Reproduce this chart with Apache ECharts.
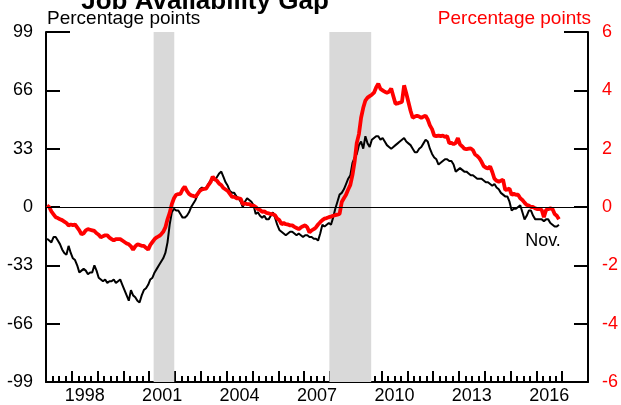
<!DOCTYPE html>
<html>
<head>
<meta charset="utf-8">
<script src="https://cdn.jsdelivr.net/npm/echarts@6/dist/echarts.min.js"></script>
<style>
  html, body { margin: 0; padding: 0; background: #fff; }
  #chart { width: 621px; height: 405px; }
</style>
</head>
<body>
<div id="chart"></div>
<script>
// monthly, Jan 1997 .. Nov 2016
const startYear = 1997;

// black line, left axis
const gapLevel = [
  -18, -19, -20, -17, -17, -19, -21, -24, -26, -27, -22, -26,   // 1997
  -29, -30, -33, -37, -36, -35, -36, -38, -37, -37, -33, -36,   // 1998
  -40, -41, -42, -41, -43, -42, -42, -41, -43, -42, -41, -44,   // 1999
  -47, -50, -53, -47, -50, -51, -53, -54, -50, -47, -46, -44,   // 2000
  -41, -40, -37, -35, -33, -31, -29, -26, -20, -10, -3, -1,     // 2001
  -2, -2, -4, -6, -6, -5, -3, 0, 2, 4, 7, 10,                   // 2002
  11, 10, 11, 13, 15, 16, 15, 17, 19, 20, 17, 14,               // 2003
  12, 9, 8, 8, 6, 5, 3, 0, 3, 5, 4, 3,                          // 2004
  1, -4, -3, -5, -6, -5, -7, -7, -5, -3, -6, -10,               // 2005
  -13, -14, -15, -16, -15, -14, -14, -15, -16, -15, -16, -17,   // 2006
  -16, -16, -17, -17, -18, -18, -19, -15, -10, -11, -10, -9,    // 2007
  -10, -6, -1, 3, 7, 8, 10, 13, 16, 18, 25, 28,                 // 2008
  30, 35, 37, 33, 40, 36, 34, 38, 39, 40, 40, 38,               // 2009
  39, 37, 35, 34, 33, 34, 35, 36, 37, 38, 39, 37,               // 2010
  36, 35, 33, 31, 31, 33, 34, 36, 38, 37, 33, 30,               // 2011
  28, 27, 24, 25, 26, 27, 27, 26, 26, 24, 20, 21,               // 2012
  22, 21, 20, 20, 19, 18, 18, 17, 16, 16, 16, 15,               // 2013
  14, 14, 13, 12, 13, 11, 10, 8, 7, 6, 6, 3,                    // 2014
  -2, -1, -1, 0, 1, -3, -7, -5, -2, -2, -5, -7,                 // 2015
  -7, -7, -7, -8, -7, -7, -9, -10, -11, -11, -10                // 2016
];

// red line, right axis
const gapRate = [
  0.05, 0.0, -0.15, -0.25, -0.35, -0.38, -0.42, -0.45, -0.5, -0.55, -0.63, -0.6,        // 1997
  -0.62, -0.6, -0.7, -0.8, -0.94, -0.9, -0.8, -0.76, -0.78, -0.8, -0.82, -0.9,          // 1998
  -0.95, -1.04, -1.0, -0.97, -0.97, -1.05, -1.1, -1.15, -1.1, -1.1, -1.1, -1.15,        // 1999
  -1.2, -1.25, -1.28, -1.35, -1.46, -1.35, -1.28, -1.3, -1.33, -1.33, -1.4, -1.46,      // 2000
  -1.3, -1.2, -1.1, -1.04, -1.0, -0.94, -0.85, -0.7, -0.42, -0.2, 0.1, 0.3,            // 2001
  0.42, 0.44, 0.45, 0.6, 0.7, 0.55, 0.45, 0.4, 0.38, 0.35, 0.45, 0.55,                 // 2002
  0.6, 0.62, 0.63, 0.75, 0.85, 1.04, 0.95, 0.9, 0.8, 0.75, 0.65, 0.6,                  // 2003
  0.55, 0.45, 0.35, 0.35, 0.3, 0.3, 0.28, 0.1, 0.12, 0.1, 0.1, 0.05,                   // 2004
  0.05, 0.0, -0.07, -0.1, -0.17, -0.15, -0.2, -0.22, -0.24, -0.25, -0.28, -0.4,        // 2005
  -0.45, -0.59, -0.55, -0.59, -0.6, -0.63, -0.63, -0.68, -0.72, -0.76, -0.7, -0.66,    // 2006
  -0.63, -0.7, -0.87, -0.8, -0.76, -0.7, -0.6, -0.52, -0.45, -0.4, -0.38, -0.35,       // 2007
  -0.33, -0.3, -0.28, -0.26, -0.24, 0.17, 0.3, 0.42, 0.6, 0.76, 1.1, 1.56,             // 2008
  2.2, 2.5, 3.06, 3.4, 3.65, 3.75, 3.8, 3.85, 3.92, 4.1, 4.23, 4.05,                   // 2009
  4.0, 3.95, 3.92, 3.95, 4.06, 3.8, 3.54, 3.55, 3.58, 3.6, 4.17, 3.9,                  // 2010
  3.6, 3.3, 3.06, 3.1, 3.13, 3.1, 3.06, 3.1, 3.13, 3.0, 2.8, 2.67,                     // 2011
  2.45, 2.43, 2.45, 2.43, 2.45, 2.4, 2.43, 2.19, 2.2, 2.15, 2.2, 2.36,                 // 2012
  2.15, 2.08, 2.0, 1.98, 2.0, 2.01, 1.95, 1.8, 1.75, 1.67, 1.55, 1.4,                  // 2013
  1.35, 1.32, 1.39, 1.2, 0.97, 0.9, 0.87, 0.9, 0.94, 0.59, 0.6, 0.63,                  // 2014
  0.42, 0.45, 0.42, 0.42, 0.3, 0.24, 0.15, 0.07, 0.05, 0.0, 0.0, -0.05,                // 2015
  -0.07, -0.07, -0.1, -0.35, -0.1, -0.07, -0.05, -0.07, -0.24, -0.3, -0.42             // 2016
];

const yearTicks = [1997, 1998, 1999, 2000, 2001, 2002, 2003, 2004, 2005, 2006, 2007,
  2008, 2009, 2010, 2011, 2012, 2013, 2014, 2015, 2016, 2017];
const yearLabels = [1998, 2001, 2004, 2007, 2010, 2013, 2016];
const leftTicks = [-99, -66, -33, 0, 33, 66, 99];
const rightTicks = [-6, -4, -2, 0, 2, 4, 6];
// recession bands, decimal years (2001 and Dec 2007 - Jun 2009)
const recessions = [[2001.17, 2001.97], [2007.98, 2009.6]];

const FONT = 'Liberation Sans, Arial, sans-serif';

function toPairs(vals) {
  // mid-month positions
  return vals.map((v, i) => [startYear + (i + 0.5) / 12, v]);
}

const quarterTicks = [];
yearTicks.slice(0, -1).forEach(y => { quarterTicks.push(y + 0.25, y + 0.5, y + 0.75); });

const chart = echarts.init(document.getElementById('chart'));

const baseX = { type: 'value', min: 1997, max: 2018, position: 'bottom', splitLine: { show: false } };
const baseLeft = { type: 'value', position: 'left', min: -99, max: 99, interval: 33, splitLine: { show: false } };
const baseRight = { type: 'value', position: 'right', min: -6, max: 6, interval: 2, splitLine: { show: false } };

chart.setOption({
  animation: false,
  grid: { left: 46, right: 29, top: 32, bottom: 23 },
  graphic: [
    { type: 'text', x: 205, y: 2,
      style: { text: 'Job Availability Gap', font: 'bold 26px ' + FONT, fill: '#000', align: 'center', verticalAlign: 'middle' } },
    { type: 'text', x: 47, y: 19,
      style: { text: 'Percentage points', font: '19px ' + FONT, fill: '#000', align: 'left', verticalAlign: 'middle' } },
    { type: 'text', x: 591, y: 19,
      style: { text: 'Percentage points', font: '19px ' + FONT, fill: '#ff0000', align: 'right', verticalAlign: 'middle' } },
    { type: 'text', x: 543, y: 241,
      style: { text: 'Nov.', font: '18px ' + FONT, fill: '#000', align: 'center', verticalAlign: 'middle' } }
  ],
  xAxis: [
    Object.assign({}, baseX, {
      axisLine: { onZero: false, lineStyle: { color: '#000', width: 2 } },
      axisTick: { inside: true, length: 11, lineStyle: { color: '#000', width: 2 }, customValues: yearTicks },
      axisLabel: { customValues: yearLabels.map(y => y + 0.5), formatter: v => String(Math.floor(v)),
        color: '#000', fontSize: 18, fontFamily: FONT, margin: 5 }
    }),
    Object.assign({}, baseX, {
      axisLine: { show: false, onZero: false },
      axisTick: { inside: true, length: 6, lineStyle: { color: '#000', width: 2 }, customValues: quarterTicks },
      axisLabel: { show: false }
    })
  ],
  yAxis: [
    Object.assign({}, baseLeft, {
      axisLine: { show: true, onZero: false, lineStyle: { color: '#000', width: 2 } },
      axisTick: { show: true, inside: true, length: 14, lineStyle: { color: '#000', width: 2 }, customValues: leftTicks.slice(0, -1) },
      axisLabel: { color: '#000', fontSize: 18, fontFamily: FONT, margin: 13, customValues: leftTicks }
    }),
    Object.assign({}, baseRight, {
      axisLine: { show: true, onZero: false, lineStyle: { color: '#000', width: 2 } },
      axisTick: { show: true, inside: true, length: 14, lineStyle: { color: '#000', width: 2 }, customValues: rightTicks.slice(0, -1) },
      axisLabel: { color: '#ff0000', fontSize: 18, fontFamily: FONT, margin: 14, customValues: rightTicks }
    }),
    // longer corner ticks at the top
    Object.assign({}, baseLeft, {
      axisLine: { show: false, onZero: false },
      axisTick: { show: true, inside: true, length: 24, lineStyle: { color: '#000', width: 2 }, customValues: [99] },
      axisLabel: { show: false }
    }),
    Object.assign({}, baseRight, {
      axisLine: { show: false, onZero: false },
      axisTick: { show: true, inside: true, length: 24, lineStyle: { color: '#000', width: 2 }, customValues: [6] },
      axisLabel: { show: false }
    })
  ],
  series: [
    {
      type: 'line', data: [], xAxisIndex: 0, yAxisIndex: 0, z: 1, silent: true,
      markArea: {
        silent: true,
        itemStyle: { color: '#d9d9d9' },
        data: recessions.map(r => [{ xAxis: r[0] }, { xAxis: r[1] }])
      },
      markLine: {
        silent: true, symbol: 'none', label: { show: false },
        lineStyle: { color: '#000', width: 1, type: 'solid' },
        data: [{ yAxis: 0 }]
      }
    },
    {
      name: 'gapLevel', type: 'line', xAxisIndex: 0, yAxisIndex: 0, z: 3,
      data: toPairs(gapLevel), showSymbol: false, symbol: 'none',
      lineStyle: { color: '#000', width: 2 }
    },
    {
      name: 'gapRate', type: 'line', xAxisIndex: 0, yAxisIndex: 1, z: 4,
      data: toPairs(gapRate), showSymbol: false, symbol: 'none',
      lineStyle: { color: '#ff0000', width: 3.8 }
    }
  ]
});
</script>
</body>
</html>
